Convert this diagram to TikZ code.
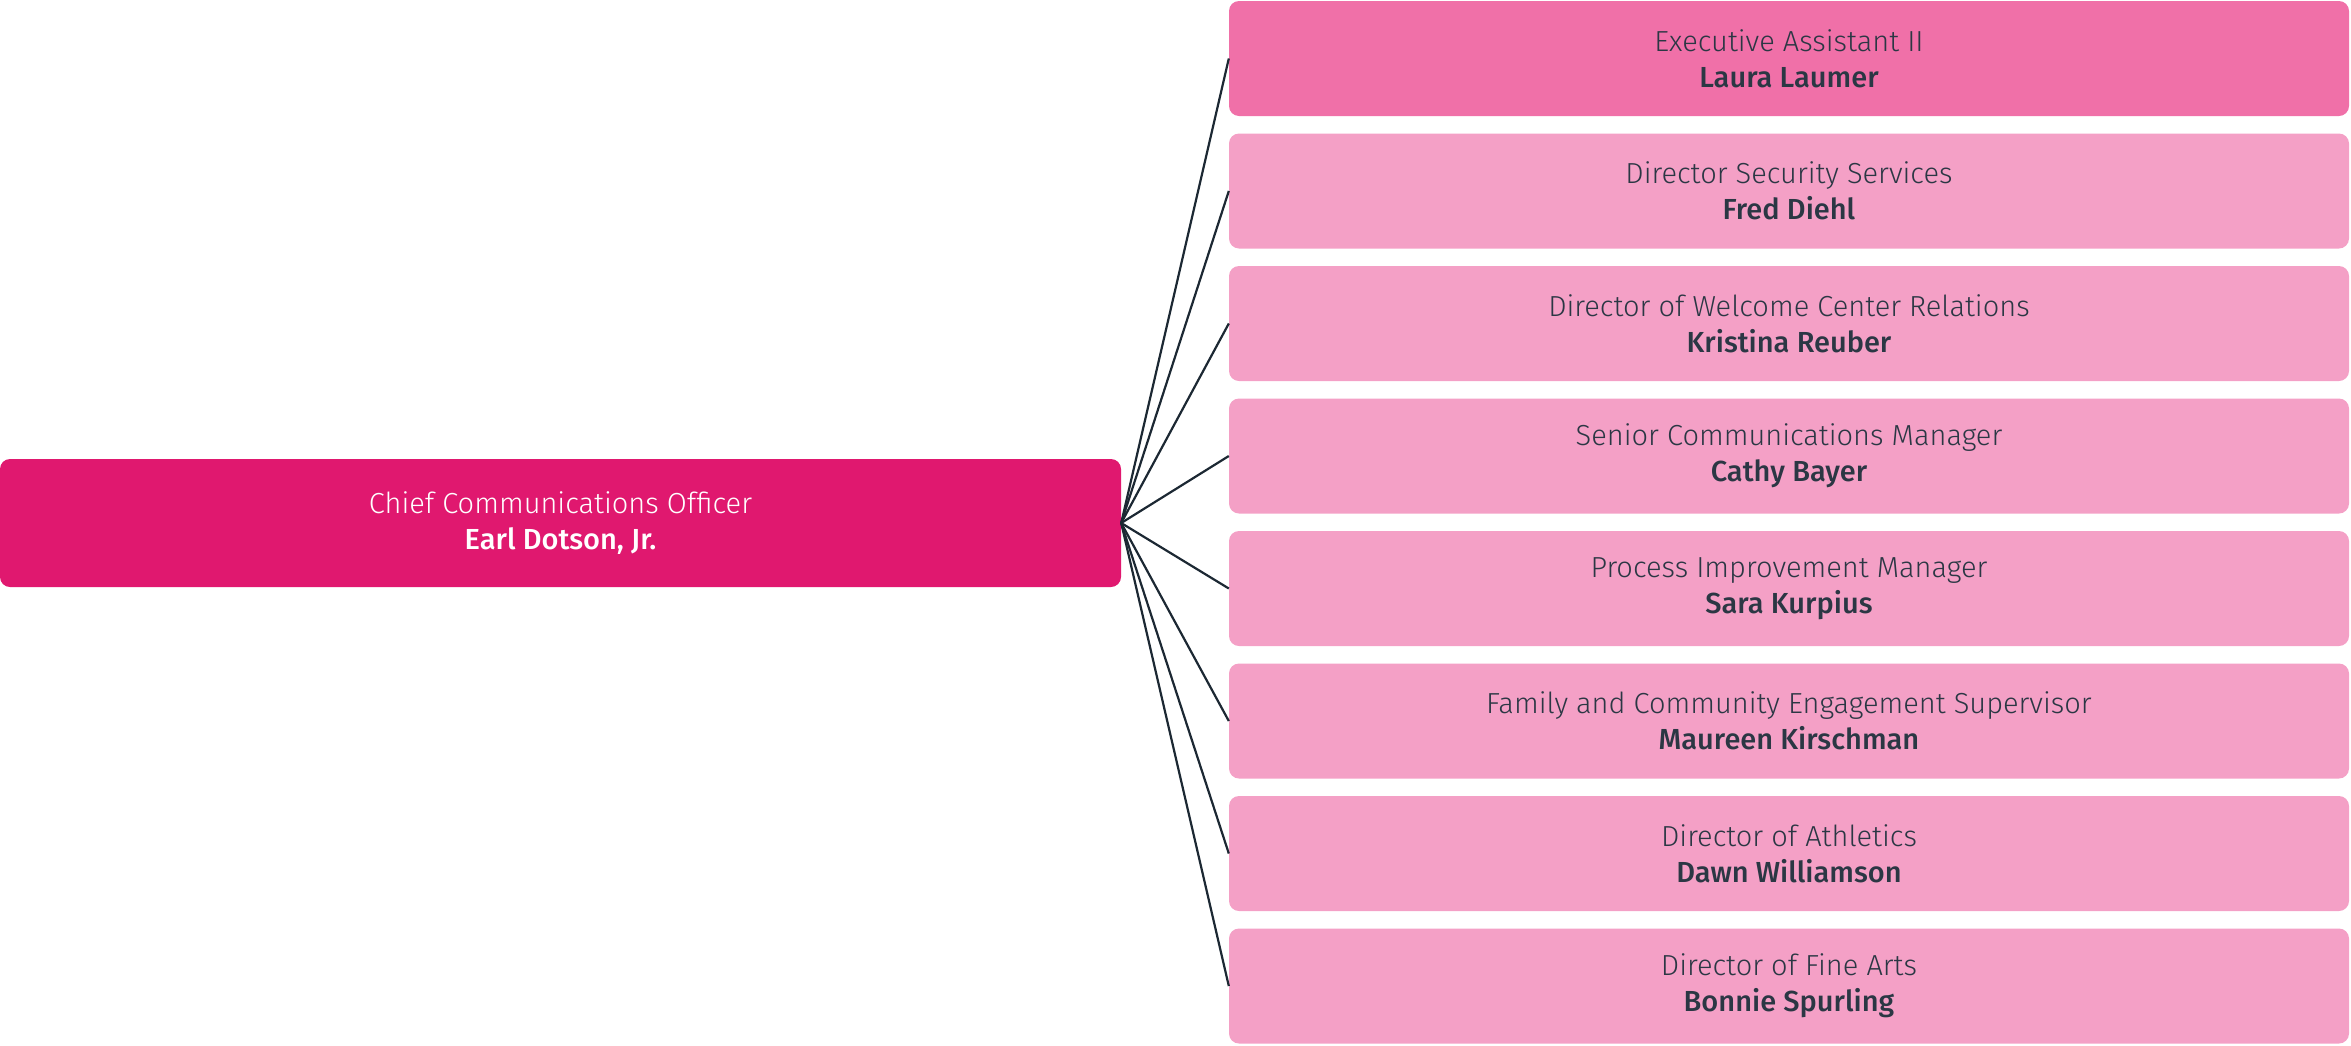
\documentclass[tikz,border=0pt]{standalone}
\usepackage{fontspec}
\setmainfont{Fira Sans}[UprightFont=* Light, BoldFont=* Medium]
\definecolor{cmain}{HTML}{E0186F}
\definecolor{cexec}{HTML}{F070A8}
\definecolor{crep}{HTML}{F4A0C6}
\definecolor{ctext}{HTML}{2B3744}
\definecolor{cline}{HTML}{1C2833}
\tikzset{
  box/.style={rounded corners=10pt, inner sep=0pt, align=center, font=\fontsize{29}{36}\selectfont},
  mainbox/.style={box, fill=cmain, text=white, minimum width=1121pt, minimum height=128pt},
  repbox/.style={box, fill=crep, text=ctext, minimum width=1120pt, minimum height=115pt},
  execbox/.style={repbox, fill=cexec},
  link/.style={draw=cline, line width=2.2pt}
}
\begin{document}
\begin{tikzpicture}[x=1pt, y=-1pt]
\useasboundingbox (0,0) rectangle (2351,1045);
\node[mainbox] (cco) at (560.5,523) {Chief Communications Officer\\\textbf{Earl Dotson, Jr.}};
\node[execbox] (r1) at (1789,58.5) {Executive Assistant II\\\textbf{Laura Laumer}};
\node[repbox] (r2) at (1789,191) {Director Security Services\\\textbf{Fred Diehl}};
\node[repbox] (r3) at (1789,323.5) {Director of Welcome Center Relations\\\textbf{Kristina Reuber}};
\node[repbox] (r4) at (1789,456) {Senior Communications Manager\\\textbf{Cathy Bayer}};
\node[repbox] (r5) at (1789,588.5) {Process Improvement Manager\\\textbf{Sara Kurpius}};
\node[repbox] (r6) at (1789,721) {Family and Community Engagement Supervisor\\\textbf{Maureen Kirschman}};
\node[repbox] (r7) at (1789,853.5) {Director of Athletics\\\textbf{Dawn Williamson}};
\node[repbox] (r8) at (1789,986) {Director of Fine Arts\\\textbf{Bonnie Spurling}};
\foreach \r in {r1,r2,r3,r4,r5,r6,r7,r8}
  \draw[link] (cco.east) -- (\r.west);
\end{tikzpicture}
\end{document}
